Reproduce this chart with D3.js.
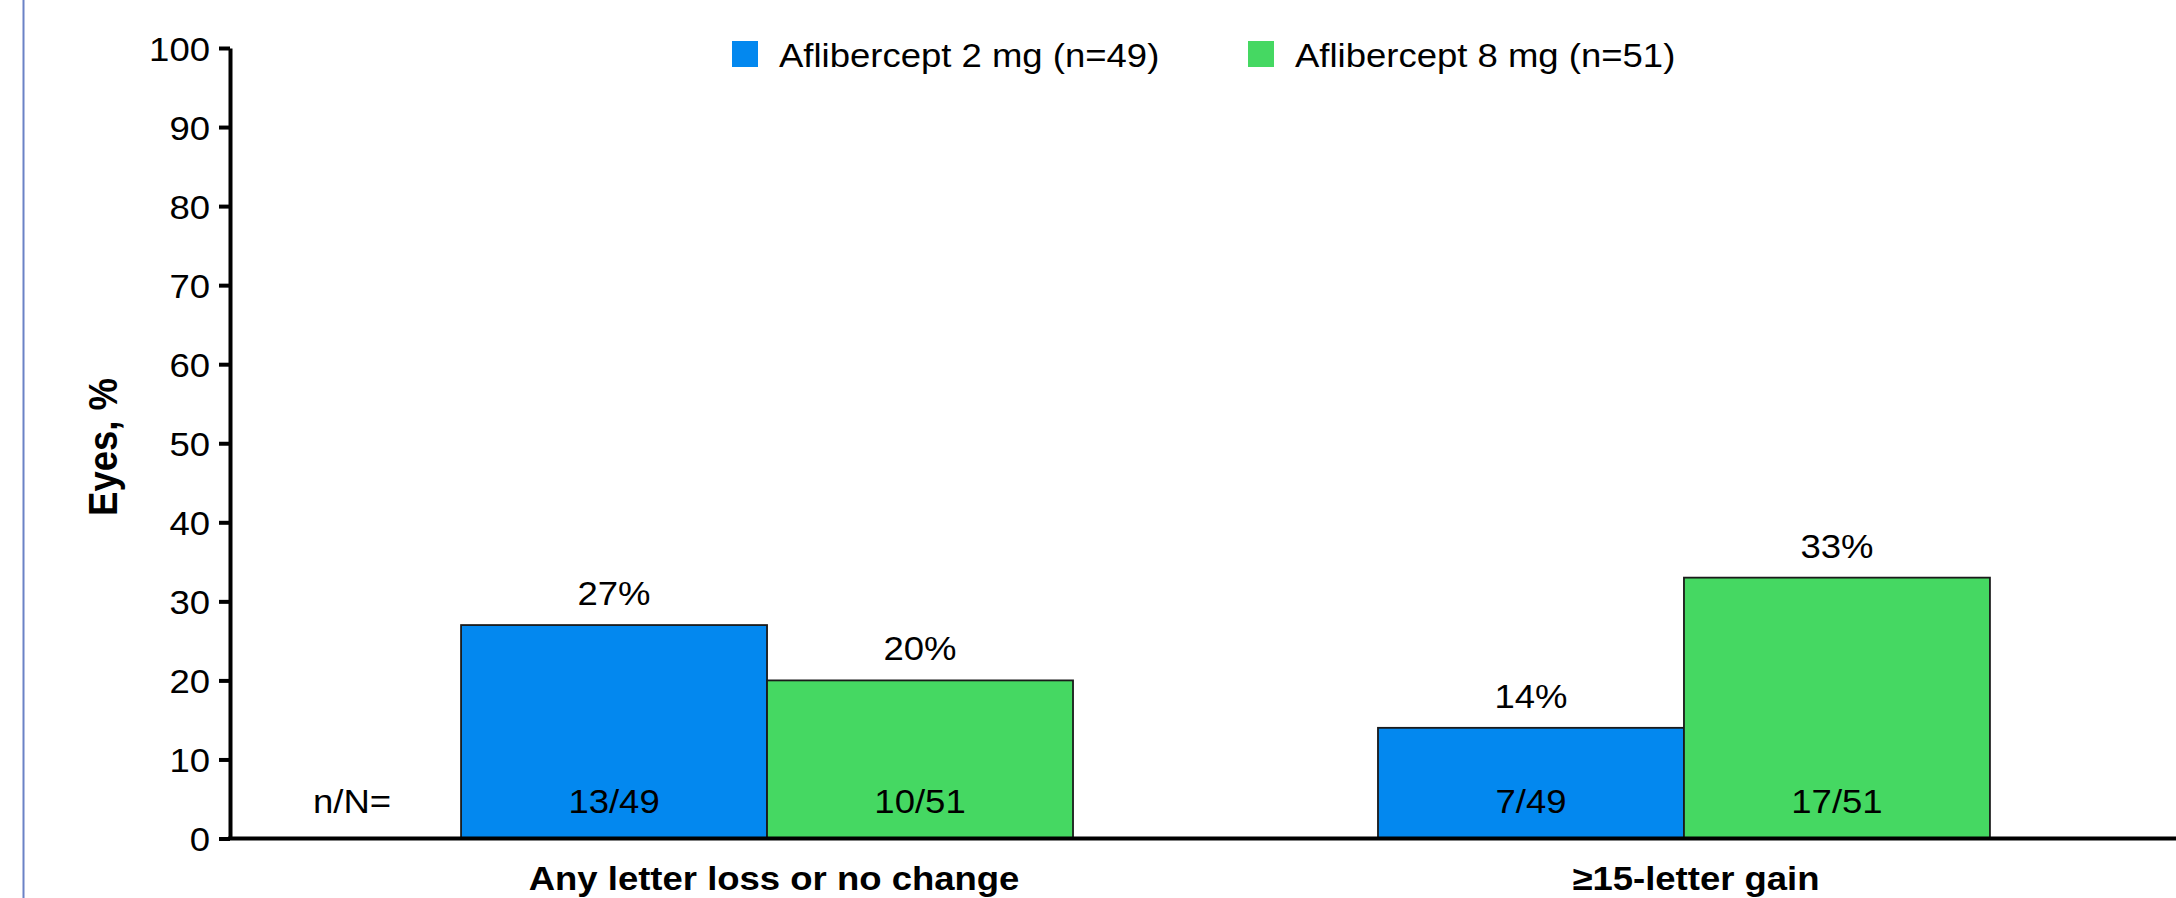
<!DOCTYPE html>
<html>
<head>
<meta charset="utf-8">
<script src="https://cdn.jsdelivr.net/npm/d3@7"></script>
<style>
  html, body { margin: 0; padding: 0; background: #ffffff; }
  svg { display: block; }
  text { font-family: "Liberation Sans", Arial, sans-serif; fill: #000; }
</style>
</head>
<body>
<svg id="chart" width="2176" height="898"></svg>
<script>
// Outcome categories and per-arm results
const categories = ["Any letter loss or no change", "\u226515-letter gain"];
const seriesNames = ["Aflibercept 2 mg (n=49)", "Aflibercept 8 mg (n=51)"];
const seriesColors = ["#0388ef", "#45d862"];
const pct2mg = [27, 14];
const pct8mg = [20, 33];
const counts2mg = ["13/49", "7/49"];
const counts8mg = ["10/51", "17/51"];
const yTickValues = [0, 10, 20, 30, 40, 50, 60, 70, 80, 90, 100];

const rows = categories.map((c, i) => ({
  category: c,
  bars: [
    { series: 0, value: pct2mg[i], count: counts2mg[i] },
    { series: 1, value: pct8mg[i], count: counts8mg[i] }
  ]
}));

const W = 2176, H = 898;
const SX = 1.09;           // slightly wide lettering
const FS = 33.5;

const svg = d3.select("#chart");

const x0 = d3.scaleBand()
  .domain(categories)
  .range([230, 2221])
  .paddingInner(0.3326)
  .paddingOuter(0.252);

const x1 = d3.scaleBand()
  .domain([0, 1])
  .range([0, x0.bandwidth()])
  .padding(0);

const y = d3.scaleLinear().domain([0, 100]).range([838.5, 48]);

// Text helper: positioned by translate, widened horizontally
function label(parent, x, yy, str, opts = {}) {
  return parent.append("text")
    .attr("transform", `translate(${x},${yy}) scale(${SX},1)`)
    .attr("text-anchor", opts.anchor || "middle")
    .attr("font-size", opts.size || FS)
    .attr("font-weight", opts.weight || "normal")
    .text(str);
}

// Left frame rule
svg.append("line")
  .attr("x1", 23.5).attr("x2", 23.5)
  .attr("y1", 0).attr("y2", H)
  .attr("stroke", "#6b82c6").attr("stroke-width", 2);

// Bars
const groups = svg.append("g").selectAll("g")
  .data(rows).join("g")
  .attr("transform", d => `translate(${x0(d.category)},0)`);

groups.selectAll("rect")
  .data(d => d.bars).join("rect")
  .attr("x", d => x1(d.series))
  .attr("y", d => y(d.value))
  .attr("width", x1.bandwidth())
  .attr("height", d => y(0) - y(d.value))
  .attr("fill", d => seriesColors[d.series])
  .attr("stroke", "#1a1a1a")
  .attr("stroke-width", 1.8);

// Percentage labels above bars, counts inside near base
groups.each(function (d) {
  const g = d3.select(this);
  d.bars.forEach(b => {
    const cx = x1(b.series) + x1.bandwidth() / 2;
    label(g, cx, y(b.value) - 20, b.value + "%");
    label(g, cx, y(0) - 25.5, b.count);
  });
});

// n/N= row label
label(svg, x0(categories[0]) - 70, y(0) - 25.5, "n/N=", { anchor: "end" });

// Y axis
const yAxis = svg.append("g")
  .attr("transform", "translate(230,0)")
  .call(d3.axisLeft(y).tickValues(yTickValues).tickSize(11).tickSizeOuter(0).tickPadding(9));
yAxis.select(".domain").attr("stroke", "#000").attr("stroke-width", 4);
yAxis.selectAll(".tick line").attr("stroke", "#000").attr("stroke-width", 4);
yAxis.selectAll(".tick text")
  .attr("font-size", FS)
  .attr("font-family", "Liberation Sans, Arial, sans-serif")
  .attr("x", -20 / SX)
  .attr("transform", `scale(${SX},1)`)
  .attr("dy", "0.36em");

// X axis baseline
const xr = x0.range();
svg.append("line")
  .attr("x1", 228).attr("x2", xr[1])
  .attr("y1", y(0)).attr("y2", y(0))
  .attr("stroke", "#000").attr("stroke-width", 4);

// Category labels
categories.forEach((c, i) => {
  label(svg, x0(c) + x0.bandwidth() / 2 + (i === 0 ? 7 : 12), 890, c, { weight: "bold" });
});

// Y axis title
svg.append("text")
  .attr("transform", "translate(117,447) rotate(-90) scale(1,1.09)")
  .attr("text-anchor", "middle")
  .attr("font-size", 36.5)
  .attr("font-weight", "bold")
  .text("Eyes, %");

// Legend
const legendX = [732, 1248];
seriesNames.forEach((s, i) => {
  svg.append("rect")
    .attr("x", legendX[i]).attr("y", 41)
    .attr("width", 26).attr("height", 26)
    .attr("fill", seriesColors[i]);
  label(svg, legendX[i] + 47, 66.7, s, { anchor: "start" });
});
</script>
</body>
</html>
